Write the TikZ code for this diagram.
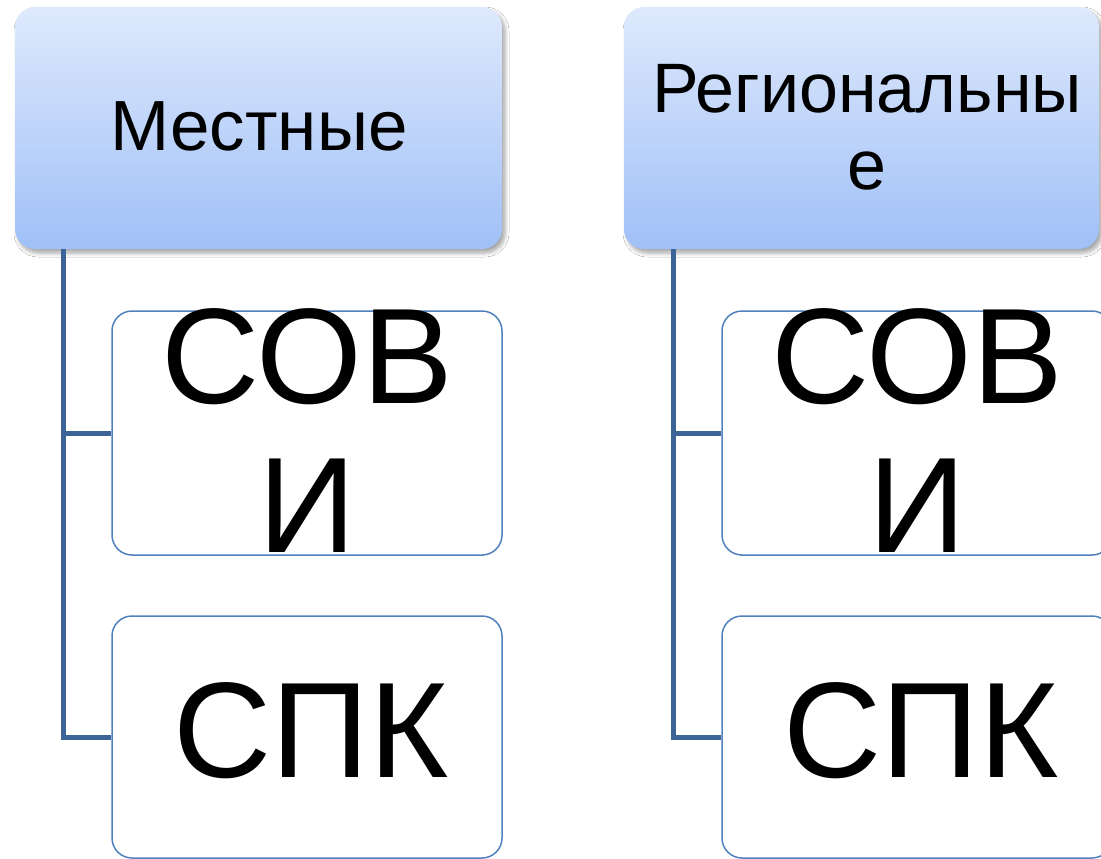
\documentclass[tikz,border=0pt]{standalone}
\usepackage{fontspec}
\setmainfont{Liberation Sans}
\usetikzlibrary{shadows.blur}
\definecolor{gtop}{RGB}{222,233,252}
\definecolor{gbot}{RGB}{160,192,247}
\definecolor{cborder}{RGB}{79,129,189}
\definecolor{cline}{RGB}{60,100,150}
\tikzset{
  parentbox/.style={rectangle, rounded corners=20pt, inner sep=0pt,
    top color=gtop, bottom color=gbot, draw=none,
    blur shadow={shadow xshift=3pt, shadow yshift=-4pt, shadow blur steps=6, shadow blur radius=4pt, shadow opacity=35},
    align=center, text=black},
  childbox/.style={rectangle, rounded corners=20pt, inner sep=0pt,
    fill=white, draw=cborder, line width=1.5pt, minimum width=390pt,
    align=center, text=black},
  conn/.style={draw=cline, line width=5pt},
}
\begin{document}
\begin{tikzpicture}[x=1pt,y=-1pt]
\useasboundingbox (0,0) rectangle (1101,859);
\fill[white] (0,0) rectangle (1101,859);
% left column
\node[parentbox, minimum width=487pt, minimum height=242pt] (p1) at (258.5,128) {};
\node[font=\fontsize{71}{82}\selectfont] (t1) at (259,126) {Местные};
\coordinate (j1) at (63,249);
\node[childbox, minimum height=244pt] (c11) at (307,433) {};
\node[childbox, minimum height=242pt] (c12) at (307,737) {};
\draw[conn] (j1) |- (c11.west);
\draw[conn] (j1) |- (c12.west);
\node[font=\fontsize{136}{149}\selectfont, align=center] (s11) at (307,431) {СОВ\\И};
\node[font=\fontsize{136}{149}\selectfont] (s12) at (311,731) {СПК};
% right column
\node[parentbox, minimum width=475pt, minimum height=242pt] (p2) at (861.5,128) {};
\node[font=\fontsize{70}{77}\selectfont, align=center] (t2) at (867,127) {Региональны\\е};
\coordinate (j2) at (673,249);
\node[childbox, minimum height=244pt] (c21) at (917,433) {};
\node[childbox, minimum height=242pt] (c22) at (917,737) {};
\draw[conn] (j2) |- (c21.west);
\draw[conn] (j2) |- (c22.west);
\node[font=\fontsize{136}{149}\selectfont, align=center] (s21) at (917,431) {СОВ\\И};
\node[font=\fontsize{136}{149}\selectfont] (s22) at (921,731) {СПК};
\end{tikzpicture}
\end{document}
